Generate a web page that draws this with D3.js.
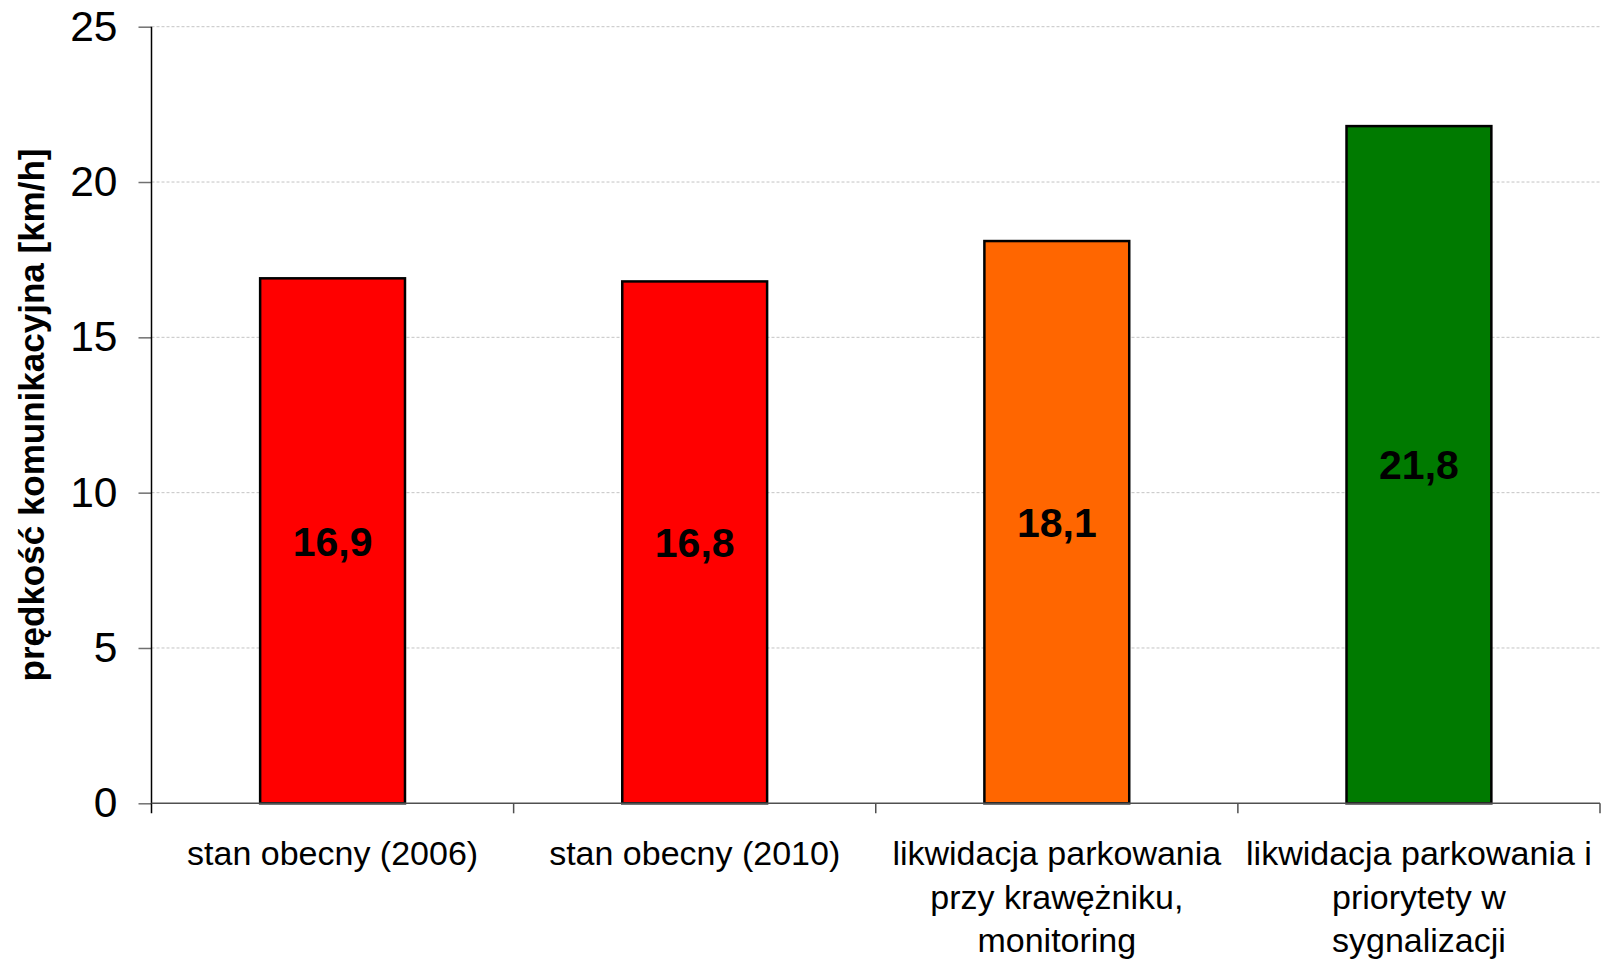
<!DOCTYPE html>
<html>
<head>
<meta charset="utf-8">
<script src="https://cdn.jsdelivr.net/npm/d3@7"></script>
<style>
  html, body { margin: 0; padding: 0; background: #fff; }
  svg { display: block; font-family: "Liberation Sans", Arial, sans-serif; }
</style>
</head>
<body>
<svg id="chart" width="1605" height="960"></svg>
<script>
// Scenario names, one array of lines per bar
const categories = [
  ["stan obecny (2006)"],
  ["stan obecny (2010)"],
  ["likwidacja parkowania", "przy krawężniku,", "monitoring"],
  ["likwidacja parkowania i", "priorytety w", "sygnalizacji"]
];
// Average travel speed [km/h]
const speeds = [16.9, 16.8, 18.1, 21.8];
const barColors = ["#ff0000", "#ff0000", "#ff6600", "#007a00"];
const yTicks = [0, 5, 10, 15, 20, 25];
const yTitle = "prędkość komunikacyjna [km/h]";

const svg = d3.select("#chart");
const plotLeft = 151.5, plotRight = 1600, plotTop = 26.7, plotBottom = 803.3;

const ids = categories.map((c, i) => i);
const x = d3.scaleBand().domain(ids).range([plotLeft, plotRight])
  .paddingInner(0.6).paddingOuter(0.3);
const y = d3.scaleLinear().domain([0, 25]).range([plotBottom, plotTop]);

// dashed horizontal gridlines
svg.append("g").selectAll("line")
  .data(yTicks.filter(t => t > 0))
  .join("line")
  .attr("x1", plotLeft).attr("x2", plotRight)
  .attr("y1", d => y(d)).attr("y2", d => y(d))
  .attr("stroke", "#c4c4c4").attr("stroke-width", 1)
  .attr("stroke-dasharray", "3,2");

// bars
svg.append("g").selectAll("rect")
  .data(speeds)
  .join("rect")
  .attr("x", (d, i) => x(i))
  .attr("y", d => y(d))
  .attr("width", x.bandwidth())
  .attr("height", d => plotBottom - y(d))
  .attr("fill", (d, i) => barColors[i])
  .attr("stroke", "#000").attr("stroke-width", 2.5);

// value labels in the middle of each bar
svg.append("g").selectAll("text")
  .data(speeds)
  .join("text")
  .attr("x", (d, i) => x(i) + x.bandwidth() / 2)
  .attr("y", d => (y(d) + plotBottom) / 2)
  .attr("dy", "0.36em")
  .attr("text-anchor", "middle")
  .attr("font-size", 41).attr("font-weight", "bold")
  .attr("fill", "#000")
  .text(d => d3.format(".1f")(d).replace(".", ","));

// y axis
const yAxis = svg.append("g")
  .attr("transform", `translate(${plotLeft},0)`)
  .call(d3.axisLeft(y).tickValues(yTicks).tickSize(13).tickPadding(21).tickFormat(d3.format("d")));
yAxis.select(".domain").remove();
yAxis.selectAll(".tick line").attr("stroke", "#707070").attr("stroke-width", 1.5);
yAxis.selectAll(".tick text").attr("font-size", 42.5).attr("fill", "#000")
  .attr("font-family", "'Liberation Sans', Arial, sans-serif");
svg.append("line")
  .attr("x1", plotLeft).attr("x2", plotLeft)
  .attr("y1", plotTop).attr("y2", plotBottom + 10)
  .attr("stroke", "#000").attr("stroke-width", 1.5);

// x axis baseline and category separators
svg.append("line")
  .attr("x1", plotLeft).attr("x2", plotRight)
  .attr("y1", plotBottom).attr("y2", plotBottom)
  .attr("stroke", "#505050").attr("stroke-width", 1.5);
const bounds = ids.map(i => x(i) - x.step() * x.paddingInner() / 2).concat([plotRight]);
svg.append("g").selectAll("line")
  .data(bounds.slice(1))
  .join("line")
  .attr("x1", d => d).attr("x2", d => d)
  .attr("y1", plotBottom).attr("y2", plotBottom + 10)
  .attr("stroke", "#505050").attr("stroke-width", 1.5);

// category labels
const catG = svg.append("g").selectAll("text")
  .data(categories)
  .join("text")
  .attr("text-anchor", "middle")
  .attr("font-size", 34).attr("fill", "#000")
  .attr("transform", (d, i) => `translate(${x(i) + x.bandwidth() / 2},865)`);
catG.selectAll("tspan")
  .data(d => d)
  .join("tspan")
  .attr("x", 0)
  .attr("y", (d, j) => j * 43.5)
  .text(d => d);

// y axis title
svg.append("text")
  .attr("transform", `translate(44,${(plotTop + plotBottom) / 2}) rotate(-90)`)
  .attr("text-anchor", "middle")
  .attr("font-size", 35).attr("font-weight", "bold")
  .attr("fill", "#000")
  .text(yTitle);
</script>
</body>
</html>
